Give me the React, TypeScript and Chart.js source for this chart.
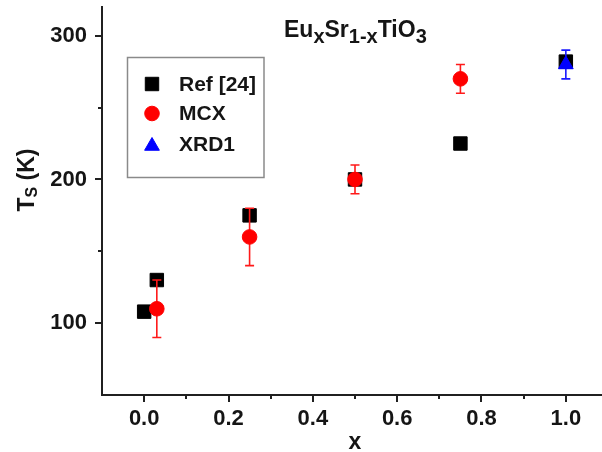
import React, { useEffect, useRef } from 'react';
import { Chart, registerables, PointElement } from 'chart.js';

Chart.register(...registerables);

// Ts versus Eu content x in EuxSr1-xTiO3
const refX = [0.0, 0.03, 0.25, 0.5, 0.75, 1.0];
const refY = [108, 130, 175, 200, 225, 282];

const mcxX = [0.03, 0.25, 0.5, 0.75];
const mcxY = [110, 160, 200, 270];
const mcxErr = [20, 20, 10, 10];

const xrdX = [1.0];
const xrdY = [280];
const xrdErr = [10];

const seriesNames = ['Ref [24]', 'MCX', 'XRD1'];

const xMajorTicks = [0, 0.2, 0.4, 0.6, 0.8, 1.0];
const xMinorTicks = [0.1, 0.3, 0.5, 0.7, 0.9];
const yMajorTicks = [100, 200, 300];
const yMinorTicks = [150, 250];

const titleRuns = [
  { t: 'Eu', sub: false },
  { t: 'x', sub: true },
  { t: 'Sr', sub: false },
  { t: '1-x', sub: true },
  { t: 'TiO', sub: false },
  { t: '3', sub: true },
];
const yTitleRuns = [
  { t: 'T', sub: false },
  { t: 'S', sub: true },
  { t: ' (K)', sub: false },
];
const xTitle = 'x';

const FONT = "'Liberation Sans', Arial, Helvetica, sans-serif";
const INK = '#151515';
const AXIS = '#202020';

type Run = { t: string; sub: boolean };

function runsWidth(ctx: CanvasRenderingContext2D, runs: Run[], main: number, sub: number) {
  let w = 0;
  for (const r of runs) {
    ctx.font = `bold ${r.sub ? sub : main}px ${FONT}`;
    w += ctx.measureText(r.t).width;
  }
  return w;
}

function drawRuns(
  ctx: CanvasRenderingContext2D,
  runs: Run[],
  x: number,
  y: number,
  main: number,
  sub: number,
  subShift: number,
) {
  let cx = x;
  ctx.textAlign = 'left';
  ctx.textBaseline = 'alphabetic';
  for (const r of runs) {
    ctx.font = `bold ${r.sub ? sub : main}px ${FONT}`;
    ctx.fillText(r.t, cx, r.sub ? y + subShift : y);
    cx += ctx.measureText(r.t).width;
  }
}

// Vertical error bars with caps, drawn just before each dataset's markers
const errorBarPlugin = {
  id: 'errorBars',
  beforeDatasetDraw(chart: any, args: any) {
    const ds = chart.data.datasets[args.index];
    if (!ds.errors) return;
    const { ctx } = chart;
    const xs = chart.scales.x;
    const ys = chart.scales.y;
    ctx.save();
    ctx.strokeStyle = ds.errorColor;
    ctx.lineWidth = 1.6;
    ds.data.forEach((p: any, i: number) => {
      const px = xs.getPixelForValue(p.x);
      const top = ys.getPixelForValue(p.y + ds.errors[i]);
      const bot = ys.getPixelForValue(p.y - ds.errors[i]);
      const cap = 4.5;
      ctx.beginPath();
      ctx.moveTo(px, top);
      ctx.lineTo(px, bot);
      ctx.moveTo(px - cap, top);
      ctx.lineTo(px + cap, top);
      ctx.moveTo(px - cap, bot);
      ctx.lineTo(px + cap, bot);
      ctx.stroke();
    });
    ctx.restore();
  },
};

// Outward tick marks (major and minor), titles and the framed legend
const decorPlugin = {
  id: 'decor',
  afterDraw(chart: any) {
    const { ctx, chartArea } = chart;
    const xs = chart.scales.x;
    const ys = chart.scales.y;
    ctx.save();
    ctx.strokeStyle = AXIS;
    ctx.lineWidth = 2;
    ctx.beginPath();
    const xb = chartArea.bottom;
    for (const v of xMajorTicks) {
      const px = Math.round(xs.getPixelForValue(v));
      ctx.moveTo(px, xb);
      ctx.lineTo(px, xb + 7);
    }
    for (const v of xMinorTicks) {
      const px = Math.round(xs.getPixelForValue(v));
      ctx.moveTo(px, xb);
      ctx.lineTo(px, xb + 4);
    }
    const yl = chartArea.left;
    for (const v of yMajorTicks) {
      const py = Math.round(ys.getPixelForValue(v));
      ctx.moveTo(yl, py);
      ctx.lineTo(yl - 7, py);
    }
    for (const v of yMinorTicks) {
      const py = Math.round(ys.getPixelForValue(v));
      ctx.moveTo(yl, py);
      ctx.lineTo(yl - 4, py);
    }
    ctx.stroke();

    // in-plot title
    ctx.fillStyle = INK;
    drawRuns(ctx, titleRuns, 284, 37, 23, 20, 6);

    // x axis title
    ctx.font = `bold 23px ${FONT}`;
    ctx.textAlign = 'center';
    ctx.textBaseline = 'alphabetic';
    ctx.fillText(xTitle, (chartArea.left + chartArea.right) / 2, 449);

    // y axis title, rotated
    ctx.save();
    ctx.translate(34, 180);
    ctx.rotate(-Math.PI / 2);
    const w = runsWidth(ctx, yTitleRuns, 23, 16);
    drawRuns(ctx, yTitleRuns, -w / 2, 0, 23, 16, 3);
    ctx.restore();

    // legend
    const box = { left: 127.5, top: 57.5, width: 136.5, height: 120 };
    ctx.strokeStyle = '#8a8a8a';
    ctx.lineWidth = 1.5;
    ctx.strokeRect(box.left, box.top, box.width, box.height);
    const rows = [84, 113.5, 144];
    const area = { left: 0, top: 0, right: 10000, bottom: 10000 };
    [0, 1, 2].forEach((di, k) => {
      const ds = chart.data.datasets[di];
      const pt = new (PointElement as any)({
        x: 152,
        y: rows[k] + (ds.pointStyle === 'triangle' ? 2 : 0),
        options: {
          pointStyle: ds.pointStyle,
          radius: ds.pointRadius,
          rotation: 0,
          backgroundColor: ds.backgroundColor,
          borderColor: ds.borderColor,
          borderWidth: ds.borderWidth,
        },
      });
      pt.draw(ctx, area);
      ctx.fillStyle = INK;
      ctx.font = `bold 21px ${FONT}`;
      ctx.textAlign = 'left';
      ctx.textBaseline = 'middle';
      ctx.fillText(ds.label, 179, rows[k] + 1);
    });
    ctx.restore();
  },
};

export default function App() {
  const canvasRef = useRef<HTMLCanvasElement | null>(null);

  useEffect(() => {
    const canvas = canvasRef.current;
    if (!canvas) return;
    const tickFont = { family: FONT, size: 22, weight: 'bold' as const };
    const chart = new Chart(canvas, {
      type: 'scatter',
      data: {
        datasets: [
          {
            label: seriesNames[0],
            data: refX.map((x, i) => ({ x, y: refY[i] })),
            pointStyle: 'rect',
            pointRadius: 9.5,
            backgroundColor: '#000000',
            borderColor: '#000000',
            borderWidth: 1,
            order: 3,
          },
          {
            label: seriesNames[1],
            data: mcxX.map((x, i) => ({ x, y: mcxY[i] })),
            errors: mcxErr,
            errorColor: '#ff1a1a',
            pointStyle: 'circle',
            pointRadius: 7.3,
            backgroundColor: '#ff0000',
            borderColor: '#ff0000',
            borderWidth: 1,
            order: 2,
          } as any,
          {
            label: seriesNames[2],
            data: xrdX.map((x, i) => ({ x, y: xrdY[i] })),
            errors: xrdErr,
            errorColor: '#1a1aff',
            pointStyle: 'triangle',
            pointRadius: 8.5,
            backgroundColor: '#0000ff',
            borderColor: '#0000ff',
            borderWidth: 1,
            order: 1,
          } as any,
        ],
      },
      options: {
        responsive: false,
        animation: false,
        layout: { autoPadding: false, padding: { top: 7, right: 12, left: 0, bottom: 0 } },
        plugins: {
          legend: { display: false },
          tooltip: { enabled: false },
        },
        scales: {
          x: {
            type: 'linear',
            min: -0.1,
            max: 1.1,
            afterFit: (s: any) => {
              s.height = 57;
              s.paddingLeft = 0;
              s.paddingRight = 0;
            },
            afterBuildTicks: (s: any) => {
              s.ticks = xMajorTicks.map((v) => ({ value: v }));
            },
            grid: { display: false },
            border: { display: true, color: AXIS, width: 2 },
            ticks: {
              autoSkip: false,
              maxRotation: 0,
              padding: 3,
              color: INK,
              font: tickFont,
              callback: (v: any) => Number(v).toFixed(1),
            },
          },
          y: {
            type: 'linear',
            min: 50,
            max: 320,
            afterFit: (s: any) => {
              s.width = 102;
              s.paddingTop = 0;
              s.paddingBottom = 0;
            },
            afterBuildTicks: (s: any) => {
              s.ticks = yMajorTicks.map((v) => ({ value: v }));
            },
            grid: { display: false },
            border: { display: true, color: AXIS, width: 2 },
            ticks: {
              autoSkip: false,
              padding: 7,
              color: INK,
              font: tickFont,
              callback: (v: any) => String(v),
            },
          },
        },
      },
      plugins: [errorBarPlugin, decorPlugin],
    } as any);
    return () => chart.destroy();
  }, []);

  return (
    <div
      style={{
        position: 'fixed',
        left: 0,
        top: 0,
        width: 602,
        height: 452,
        overflow: 'hidden',
        background: '#ffffff',
      }}
    >
      <canvas ref={canvasRef} width={620} height={452} style={{ display: 'block' }} />
    </div>
  );
}
